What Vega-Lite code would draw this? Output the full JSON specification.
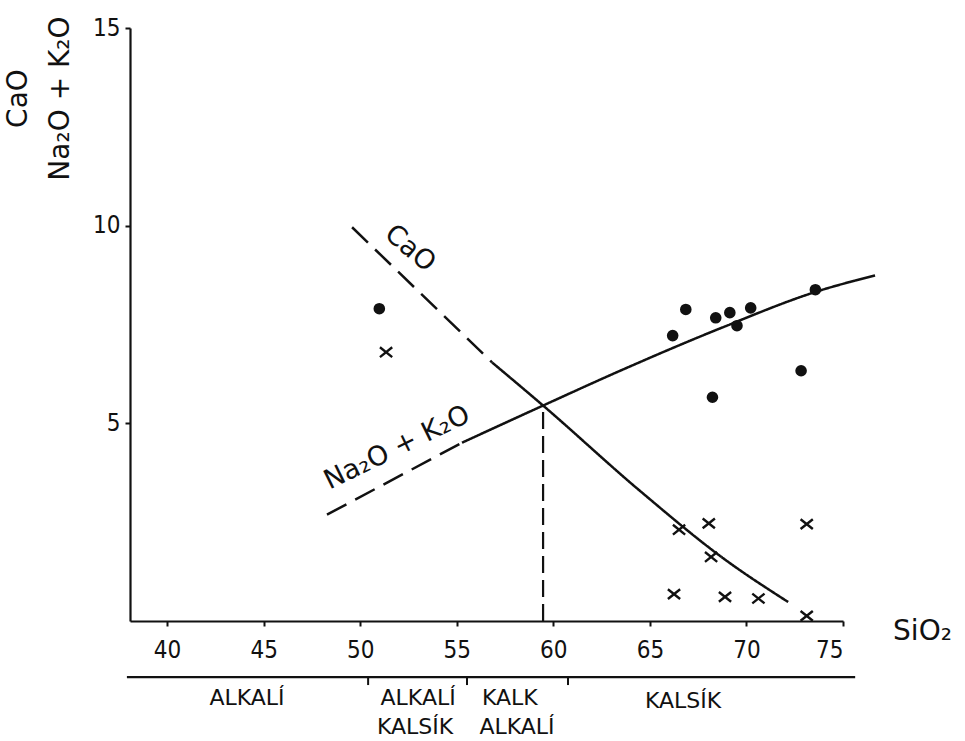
{
  "$schema": "https://vega.github.io/schema/vega-lite/v6.json",
  "autosize": {"type": "none"},
  "width": 713,
  "height": 593,
  "padding": {"left": 130, "top": 28, "right": 122, "bottom": 120},
  "background": "#ffffff",
  "config": {
    "view": {"stroke": null},
    "font": "DejaVu Sans",
    "axis": {
      "grid": false,
      "domainColor": "#111111",
      "domainWidth": 2.2,
      "tickColor": "#111111",
      "tickWidth": 2,
      "tickSize": 5,
      "labelColor": "#111111",
      "labelFont": "DejaVu Sans Condensed, DejaVu Sans",
      "labelFontSize": 24,
      "titleColor": "#111111",
      "titleFont": "DejaVu Sans",
      "titleFontWeight": "normal"
    }
  },
  "datasets": {
    "curves": [
      {"sio2": 48.28, "value": 2.69, "segment": "Na2O+K2O dashed", "style": "dashed"},
      {"sio2": 55.27, "value": 4.51, "segment": "Na2O+K2O dashed", "style": "dashed"},
      {"sio2": 55.27, "value": 4.51, "segment": "Na2O+K2O solid", "style": "solid"},
      {"sio2": 59.47, "value": 5.45, "segment": "Na2O+K2O solid", "style": "solid"},
      {"sio2": 63.46, "value": 6.33, "segment": "Na2O+K2O solid", "style": "solid"},
      {"sio2": 68.63, "value": 7.4, "segment": "Na2O+K2O solid", "style": "solid"},
      {"sio2": 73.81, "value": 8.36, "segment": "Na2O+K2O solid", "style": "solid"},
      {"sio2": 76.66, "value": 8.74, "segment": "Na2O+K2O solid", "style": "solid"},
      {"sio2": 49.58, "value": 9.96, "segment": "CaO dashed", "style": "dashed"},
      {"sio2": 56.83, "value": 6.54, "segment": "CaO dashed", "style": "dashed"},
      {"sio2": 56.83, "value": 6.54, "segment": "CaO solid", "style": "solid"},
      {"sio2": 59.47, "value": 5.45, "segment": "CaO solid", "style": "solid"},
      {"sio2": 64.49, "value": 3.29, "segment": "CaO solid", "style": "solid"},
      {"sio2": 68.9, "value": 1.55, "segment": "CaO solid", "style": "solid"},
      {"sio2": 72.16, "value": 0.48, "segment": "CaO solid", "style": "solid"}
    ],
    "points": [
      {"sio2": 66.18, "value": 7.22, "oxide": "Na2O+K2O"},
      {"sio2": 66.86, "value": 7.88, "oxide": "Na2O+K2O"},
      {"sio2": 68.41, "value": 7.67, "oxide": "Na2O+K2O"},
      {"sio2": 69.14, "value": 7.8, "oxide": "Na2O+K2O"},
      {"sio2": 69.51, "value": 7.47, "oxide": "Na2O+K2O"},
      {"sio2": 70.22, "value": 7.92, "oxide": "Na2O+K2O"},
      {"sio2": 73.57, "value": 8.38, "oxide": "Na2O+K2O"},
      {"sio2": 72.83, "value": 6.33, "oxide": "Na2O+K2O"},
      {"sio2": 68.24, "value": 5.66, "oxide": "Na2O+K2O"},
      {"sio2": 50.99, "value": 7.9, "oxide": "Na2O+K2O"},
      {"sio2": 66.51, "value": 2.31, "oxide": "CaO"},
      {"sio2": 68.05, "value": 2.47, "oxide": "CaO"},
      {"sio2": 73.12, "value": 2.45, "oxide": "CaO"},
      {"sio2": 68.17, "value": 1.62, "oxide": "CaO"},
      {"sio2": 66.25, "value": 0.68, "oxide": "CaO"},
      {"sio2": 68.89, "value": 0.61, "oxide": "CaO"},
      {"sio2": 70.62, "value": 0.57, "oxide": "CaO"},
      {"sio2": 73.12, "value": 0.13, "oxide": "CaO"},
      {"sio2": 51.34, "value": 6.8, "oxide": "CaO"}
    ],
    "zones": [
      {"sio2": 44.14, "value": -1.95, "label": "ALKALÍ"},
      {"sio2": 53.0, "value": -1.95, "label": "ALKALÍ"},
      {"sio2": 57.75, "value": -1.95, "label": "KALK"},
      {"sio2": 52.84, "value": -2.68, "label": "KALSÍK"},
      {"sio2": 58.12, "value": -2.68, "label": "ALKALÍ"},
      {"sio2": 66.72, "value": -2.03, "label": "KALSÍK"}
    ],
    "zoneTicks": [
      {"sio2": 50.41, "top": -1.42, "bottom": -1.62},
      {"sio2": 55.53, "top": -1.42, "bottom": -1.62},
      {"sio2": 60.76, "top": -1.42, "bottom": -1.62}
    ]
  },
  "layer": [
    {
      "data": {"name": "curves"},
      "mark": {"type": "line", "color": "#111111", "strokeWidth": 2.5, "interpolate": "monotone"},
      "encoding": {
        "x": {
          "field": "sio2", "type": "quantitative",
          "scale": {"domain": [38.08, 75], "nice": false, "zero": false},
          "axis": {
            "values": [40, 45, 50, 55, 60, 65, 70, 75],
            "labelPadding": 12,
            "title": "SiO₂",
            "titleFontSize": 28,
            "titleAnchor": "start",
            "titleAlign": "center",
            "titleBaseline": "middle",
            "titleX": 792,
            "titleY": 10
          }
        },
        "y": {
          "field": "value", "type": "quantitative",
          "scale": {"domain": [0, 15], "nice": false, "zero": true},
          "axis": {
            "values": [5, 10, 15],
            "labelPadding": 5,
            "title": ["CaO", "Na₂O + K₂O"],
            "titleFontSize": 28,
            "titleLineHeight": 42,
            "titleAngle": -90,
            "titleAlign": "center",
            "titleBaseline": "middle",
            "titleX": -112,
            "titleY": 70
          }
        },
        "detail": {"field": "segment"},
        "strokeDash": {
          "field": "style", "type": "nominal",
          "scale": {"domain": ["dashed", "solid"], "range": [[22, 10], [1, 0]]},
          "legend": null
        }
      }
    },
    {
      "data": {"values": [{"sio2": 59.47, "low": 0, "high": 5.45}]},
      "mark": {"type": "rule", "color": "#111111", "strokeWidth": 2.2, "strokeDash": [17, 7]},
      "encoding": {
        "x": {"field": "sio2", "type": "quantitative"},
        "y": {"field": "low", "type": "quantitative"},
        "y2": {"field": "high"}
      }
    },
    {
      "data": {"name": "points"},
      "transform": [{"filter": "datum.oxide === 'Na2O+K2O'"}],
      "mark": {"type": "point", "shape": "circle", "filled": true, "color": "#111111", "size": 135, "opacity": 1},
      "encoding": {
        "x": {"field": "sio2", "type": "quantitative"},
        "y": {"field": "value", "type": "quantitative"}
      }
    },
    {
      "data": {"name": "points"},
      "transform": [{"filter": "datum.oxide === 'CaO'"}],
      "mark": {"type": "point", "shape": "M-1,-0.8L1,0.8M1,-0.8L-1,0.8", "filled": false, "color": "#111111", "strokeWidth": 2.4, "size": 150, "opacity": 1},
      "encoding": {
        "x": {"field": "sio2", "type": "quantitative"},
        "y": {"field": "value", "type": "quantitative"}
      }
    },
    {
      "data": {"values": [{"sio2": 52.58, "value": 9.42, "label": "CaO"}]},
      "mark": {"type": "text", "angle": 40, "fontSize": 27, "color": "#111111", "align": "center", "baseline": "middle"},
      "encoding": {
        "x": {"field": "sio2", "type": "quantitative"},
        "y": {"field": "value", "type": "quantitative"},
        "text": {"field": "label"}
      }
    },
    {
      "data": {"values": [{"sio2": 51.91, "value": 4.38, "label": "Na₂O + K₂O"}]},
      "mark": {"type": "text", "angle": -26, "fontSize": 27, "color": "#111111", "align": "center", "baseline": "middle"},
      "encoding": {
        "x": {"field": "sio2", "type": "quantitative"},
        "y": {"field": "value", "type": "quantitative"},
        "text": {"field": "label"}
      }
    },
    {
      "data": {"values": [{"start": 37.92, "end": 75.63, "value": -1.42}]},
      "mark": {"type": "rule", "color": "#111111", "strokeWidth": 2.2},
      "encoding": {
        "x": {"field": "start", "type": "quantitative"},
        "x2": {"field": "end"},
        "y": {"field": "value", "type": "quantitative"}
      }
    },
    {
      "data": {"name": "zoneTicks"},
      "mark": {"type": "rule", "color": "#111111", "strokeWidth": 2},
      "encoding": {
        "x": {"field": "sio2", "type": "quantitative"},
        "y": {"field": "top", "type": "quantitative"},
        "y2": {"field": "bottom"}
      }
    },
    {
      "data": {"name": "zones"},
      "mark": {"type": "text", "fontSize": 22, "color": "#111111", "align": "center", "baseline": "middle"},
      "encoding": {
        "x": {"field": "sio2", "type": "quantitative"},
        "y": {"field": "value", "type": "quantitative"},
        "text": {"field": "label"}
      }
    }
  ]
}
